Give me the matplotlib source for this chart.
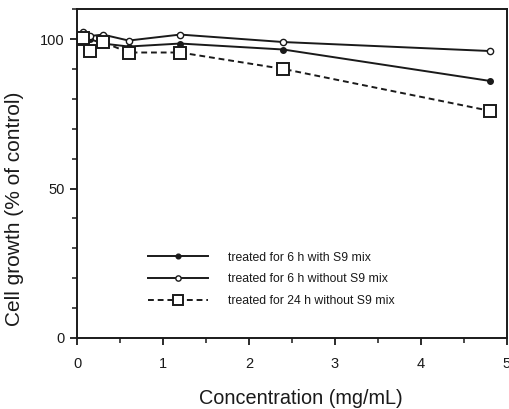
import matplotlib
matplotlib.use("Agg")
import matplotlib.pyplot as plt
from matplotlib.ticker import MultipleLocator

conc = [0, 0.075, 0.15, 0.3, 0.6, 1.2, 2.4, 4.8]
with_s9_6h = [100, 100.5, 100, 98.5, 97.5, 98.5, 96.5, 86]
without_s9_6h = [100, 102.5, 101, 101.5, 99.5, 101.5, 99, 96]
without_s9_24h = [100, 100.5, 96, 99, 95.5, 95.5, 90, 76]
labels = ["treated for 6 h with S9 mix",
          "treated for 6 h without S9 mix",
          "treated for 24 h without S9 mix"]

plt.rcParams['font.family'] = ['Liberation Sans', 'DejaVu Sans']
fig = plt.figure(figsize=(5.1, 4.09), dpi=100)
ax = fig.add_axes([0.151, 0.1736, 0.843, 0.804])

c = '#1a1a1a'
ax.plot(conc, with_s9_6h, '-', color=c, lw=1.4, marker='o', ms=4,
        mfc=c, mec=c, label=labels[0])
ax.plot(conc, without_s9_6h, '-', color=c, lw=1.4, marker='o', ms=4.5,
        mfc='white', mec=c, mew=1.0, label=labels[1])
ax.plot(conc, without_s9_24h, '--', color=c, lw=1.4, dashes=(3, 2), marker='s', ms=8,
        mfc='white', mec=c, mew=1.4, label=labels[2])

ax.set_xlim(0, 5)
ax.set_ylim(0, 110)
ax.xaxis.set_major_locator(MultipleLocator(1))
ax.xaxis.set_minor_locator(MultipleLocator(0.5))
ax.set_yticks([0, 50, 100])
ax.yaxis.set_minor_locator(MultipleLocator(10))
ax.tick_params(axis='both', which='major', length=5, width=1.3, labelsize=10.5, colors=c)
ax.tick_params(axis='both', which='minor', length=3.5, width=1.1, colors=c)
ax.tick_params(axis='x', pad=9)
ax.tick_params(axis='y', pad=4)
for s in ax.spines.values():
    s.set_linewidth(1.4)
    s.set_color(c)

ax.set_xlabel("Concentration (mg/mL)", fontsize=14.3, color=c)
ax.set_ylabel("Cell growth (% of control)", fontsize=15, color=c)
ax.xaxis.set_label_coords(0.521, -0.155)
ax.yaxis.set_label_coords(-0.123, 0.392)

leg = ax.legend(loc='lower left', bbox_to_anchor=(0.14, 0.06), frameon=False,
                fontsize=8.8, handlelength=4.9, handletextpad=1.6, labelspacing=0.8,
                markerscale=0.85)
for t in leg.get_texts():
    t.set_color(c)

fig.savefig("out.png", dpi=100)
